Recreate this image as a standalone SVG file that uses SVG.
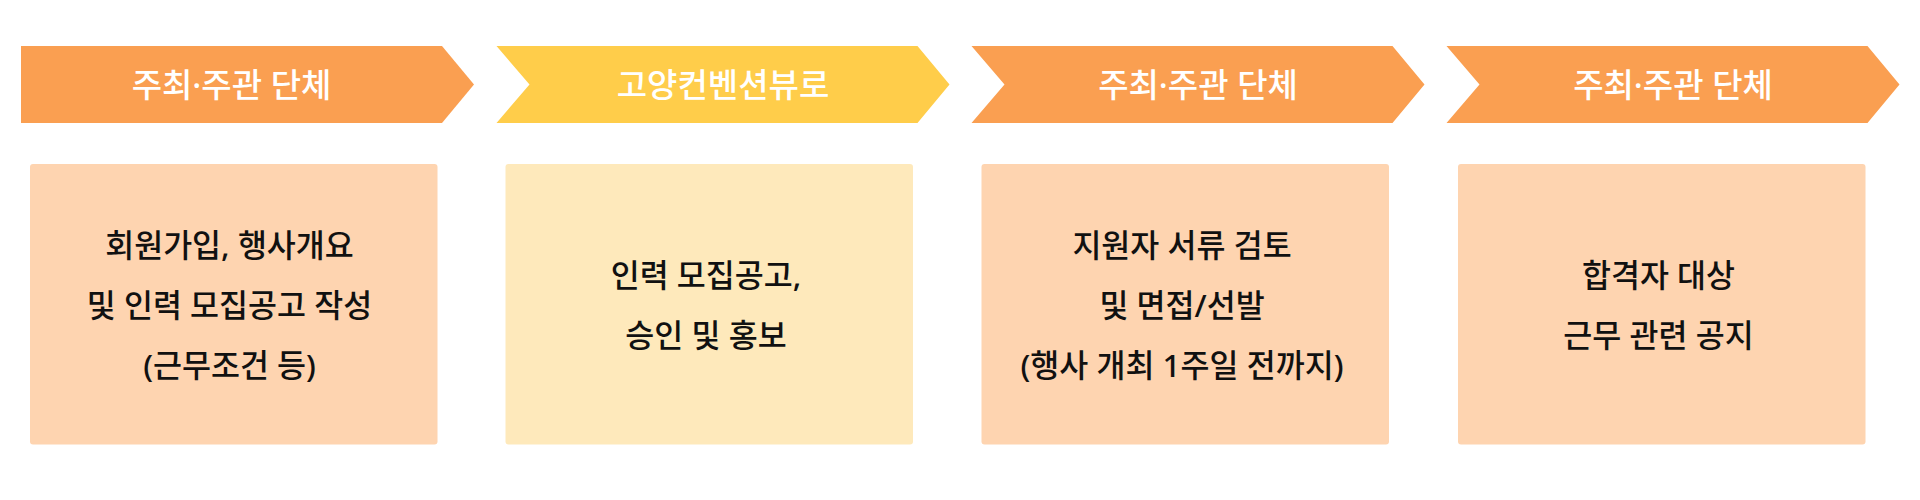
<svg xmlns="http://www.w3.org/2000/svg" width="1920" height="500" viewBox="0 0 1920 500">
<style>
.hd{fill:#FA9F51}
.hy{fill:#FFCD4A}
.bo{fill:#FED4B0}
.by{fill:#FEE9BB}
.ht{font-family:"Noto Sans","Noto Sans CJK KR",sans-serif;font-size:33px;font-weight:500;fill:#FFFFFF;text-anchor:middle;dominant-baseline:central}
.bt{font-family:"Noto Sans","Noto Sans CJK KR",sans-serif;font-size:31.5px;font-weight:500;fill:#111111;text-anchor:middle;dominant-baseline:central}
</style>
<rect width="1920" height="500" fill="#FFFFFF"/>
<g id="header1">
<polygon class="hd" points="21,46 442,46 474,84.5 442,123 21,123"/>
<text class="ht" x="231.5" y="84.5">주최·주관 단체</text>
</g>
<g id="header2">
<polygon class="hy" points="496.5,46 917.5,46 949.5,84.5 917.5,123 496.5,123 529.5,84.5"/>
<text class="ht" x="723" y="84.5">고양컨벤션뷰로</text>
</g>
<g id="header3">
<polygon class="hd" points="971.5,46 1392.5,46 1424.5,84.5 1392.5,123 971.5,123 1004.5,84.5"/>
<text class="ht" x="1198" y="84.5">주최·주관 단체</text>
</g>
<g id="header4">
<polygon class="hd" points="1446.5,46 1867.5,46 1899.5,84.5 1867.5,123 1446.5,123 1479.5,84.5"/>
<text class="ht" x="1673" y="84.5">주최·주관 단체</text>
</g>
<g id="box1">
<rect class="bo" x="30" y="164" width="407.5" height="280.5" rx="3"/>
<text class="bt" x="229.5" y="244.5">회원가입, 행사개요</text>
<text class="bt" x="229.5" y="304.5">및 인력 모집공고 작성</text>
<text class="bt" x="229.5" y="364.5">(근무조건 등)</text>
</g>
<g id="box2">
<rect class="by" x="505.5" y="164" width="407.5" height="280.5" rx="3"/>
<text class="bt" x="706" y="274.5">인력 모집공고,</text>
<text class="bt" x="706" y="334.5">승인 및 홍보</text>
</g>
<g id="box3">
<rect class="bo" x="981.5" y="164" width="407.5" height="280.5" rx="3"/>
<text class="bt" x="1182" y="244.5">지원자 서류 검토</text>
<text class="bt" x="1182" y="304.5">및 면접/선발</text>
<text class="bt" x="1182" y="364.5">(행사 개최 1주일 전까지)</text>
</g>
<g id="box4">
<rect class="bo" x="1458" y="164" width="407.5" height="280.5" rx="3"/>
<text class="bt" x="1658.5" y="274.5">합격자 대상</text>
<text class="bt" x="1658.5" y="334.5">근무 관련 공지</text>
</g>
<g id="connectors"></g>
</svg>
